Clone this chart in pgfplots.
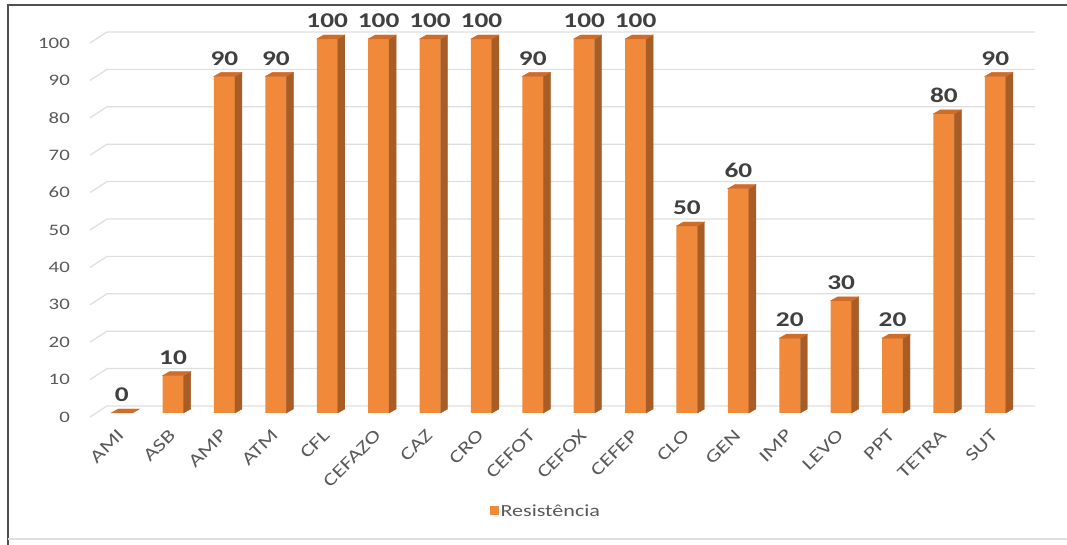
\documentclass[border=0pt]{standalone}
\usepackage{pgfplots}
\pgfplotsset{compat=1.18}
\usepackage{fontspec}
\setmainfont{Carlito}[FakeStretch=1.3]
\usetikzlibrary{calc}
\definecolor{front}{RGB}{240,137,58}
\definecolor{sidec}{RGB}{168,92,38}
\definecolor{topc}{RGB}{208,108,42}
\definecolor{gridc}{RGB}{222,222,222}
\definecolor{tickc}{RGB}{89,89,89}
\definecolor{labc}{RGB}{64,64,64}
\definecolor{framec}{RGB}{80,80,80}
\pgfplotstableread{
x v
0 0
1 10
2 90
3 90
4 100
5 100
6 100
7 100
8 90
9 100
10 100
11 50
12 60
13 20
14 30
15 20
16 80
17 90
}\datatable
\begin{document}
\begin{tikzpicture}[x=1pt,y=1pt]
\useasboundingbox (0,0) rectangle (1067,545);
\draw[framec, line width=2pt] (8,0) -- (8,540) -- (1067,540);
\draw[gridc, line width=1.5pt] (8,6) -- (1067,6);
\begin{axis}[
  at={(96pt,132pt)}, anchor=south west,
  scale only axis, width=925pt, height=374pt,
  xmin=-0.5, xmax=17.5, ymin=0, ymax=100,
  clip=false,
  axis line style={draw=none},
  major tick length=0pt,
  ytick={0,10,...,100},
  xtick={0,...,17},
  xticklabels={AMI,ASB,AMP,ATM,CFL,CEFAZO,CAZ,CRO,CEFOT,CEFOX,CEFEP,CLO,GEN,IMP,LEVO,PPT,TETRA,SUT},
  /pgf/number format/assume math mode=true,
  yticklabel style={anchor=east, inner sep=0pt, xshift=-26pt, yshift=-4pt, font=\fontsize{16}{18}\selectfont, text=tickc},
  xticklabel style={anchor=north east, inner sep=0pt, xshift=-5pt, yshift=-15pt, rotate=45, font=\fontsize{18}{20}\selectfont, text=tickc},
  legend style={at={(0.4865,-0.262)}, anchor=center, draw=none, fill=none, font=\fontsize{17}{19}\selectfont, text=tickc, inner sep=0pt},
  legend image code/.code={\fill[front] (0pt,-4.5pt) rectangle (8.5pt,4.5pt);},
]
\pgfplotsinvokeforeach{0,10,...,100}{
  \draw[gridc, line width=1.2pt] ($(axis cs:-0.5,#1)+(-6pt,-4pt)$) -- ($(axis cs:-0.5,#1)+(11pt,7pt)$) -- ($(axis cs:17.5,#1)+(14pt,7pt)$);
}
\addplot[ybar, bar width=21pt, fill=front, draw=none,
  nodes near coords,
  every node near coord/.append style={font=\fontsize{21}{24}\selectfont\bfseries, text=labc, anchor=south, inner sep=0pt, yshift=11pt}]
  table[x=x, y=v] {\datatable};
\addlegendentry{Resistência}
\addplot[forget plot, only marks, mark=*, mark size=0pt, scatter,
  visualization depends on={y \as \rawy},
  scatter/@pre marker code/.code={%
    \pgfmathsetmacro\hh{\rawy*3.74}%
    \fill[sidec] (10.5pt,0pt) -- (17.5pt,4pt) -- (17.5pt,{(4-\hh)*1pt}) -- (10.5pt,{-\hh*1pt}) -- cycle;
    \fill[topc] (-10.5pt,0pt) -- (10.5pt,0pt) -- (17.5pt,4pt) -- (-3.5pt,4pt) -- cycle;
  },
  scatter/@post marker code/.code={}]
  table[x=x, y=v] {\datatable};
\end{axis}
\end{tikzpicture}
\end{document}
